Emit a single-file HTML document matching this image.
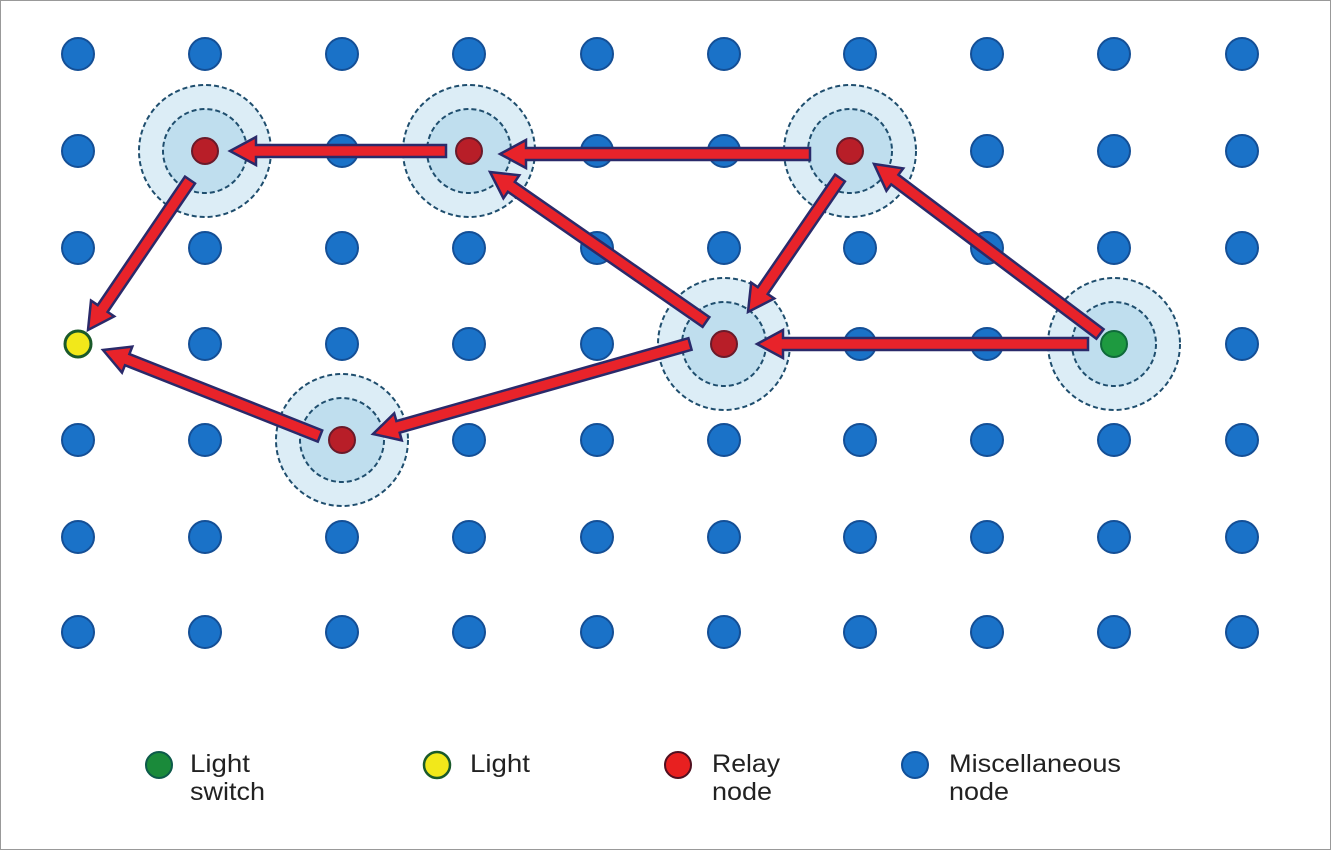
<!DOCTYPE html>
<html><head><meta charset="utf-8"><style>
html,body{margin:0;padding:0;background:#fff;}
svg{display:block;}
text{font-family:"Liberation Sans",Arial,sans-serif;font-size:25px;fill:#222;}
</style></head><body>
<svg id="s" width="1331" height="850" viewBox="0 0 1331 850" xmlns="http://www.w3.org/2000/svg">
<rect x="0.5" y="0.5" width="1330" height="849" fill="#fff" stroke="#999"/>
<g id="g"></g>
<g id="legend">
<circle cx="159" cy="765" r="13" fill="#1a8a3a" stroke="#0d5a4a" stroke-width="2"/>
<text x="190" y="772" textLength="60" lengthAdjust="spacingAndGlyphs">Light</text><text x="190" y="800" textLength="75" lengthAdjust="spacingAndGlyphs">switch</text>
<circle cx="437" cy="765" r="13" fill="#f2e81a" stroke="#1a5a2a" stroke-width="2.5"/>
<text x="470" y="772" textLength="60" lengthAdjust="spacingAndGlyphs">Light</text>
<circle cx="678" cy="765" r="13" fill="#e82020" stroke="#501020" stroke-width="2"/>
<text x="712" y="772" textLength="68" lengthAdjust="spacingAndGlyphs">Relay</text><text x="712" y="800" textLength="60" lengthAdjust="spacingAndGlyphs">node</text>
<circle cx="915" cy="765" r="13" fill="#1a72c8" stroke="#104f98" stroke-width="2"/>
<text x="949" y="772" textLength="172" lengthAdjust="spacingAndGlyphs">Miscellaneous</text><text x="949" y="800" textLength="60" lengthAdjust="spacingAndGlyphs">node</text>
</g>
</svg>
<script>
var NS="http://www.w3.org/2000/svg",g=document.getElementById('g');
function el(t,a){var e=document.createElementNS(NS,t);for(var k in a)e.setAttribute(k,a[k]);g.appendChild(e);return e;}
var xs=[78,205,342,469,597,724,860,987,1114,1242],ys=[54,151,248,344,440,537,632];
var relays=[[205,151],[469,151],[850,151],[724,344],[342,440]];
var rings=relays.concat([[1114,344]]);
rings.forEach(function(p){
 el('circle',{cx:p[0],cy:p[1],r:66,fill:'#dcedf6',stroke:'#1f4e6e','stroke-width':2,'stroke-dasharray':'5 3'});
 el('circle',{cx:p[0],cy:p[1],r:42,fill:'#bfdeee',stroke:'#1f4e6e','stroke-width':2,'stroke-dasharray':'5 3'});
});
function near(x,y){for(var i=0;i<rings.length;i++){if(Math.abs(rings[i][0]-x)<30&&Math.abs(rings[i][1]-y)<30)return true;}return x==78&&y==344;}
ys.forEach(function(y){xs.forEach(function(x){
 if(near(x,y))return;
 el('circle',{cx:x,cy:y,r:16,fill:'#1a72c8',stroke:'#144f96','stroke-width':2});
});});
relays.forEach(function(p){el('circle',{cx:p[0],cy:p[1],r:13,fill:'#b81e28',stroke:'#6a1a2a','stroke-width':2});});
el('circle',{cx:1114,cy:344,r:13,fill:'#1e9a40',stroke:'#0f6a3a','stroke-width':2});
el('circle',{cx:78,cy:344,r:13,fill:'#f2e81a',stroke:'#1a5a2a','stroke-width':3});
function arrow(x1,y1,x2,y2){
 var dx=x2-x1,dy=y2-y1,L=Math.sqrt(dx*dx+dy*dy),ux=dx/L,uy=dy/L,nx=-uy,ny=ux;
 var w=6,hw=14,hl=26,bx=x2-ux*hl,by=y2-uy*hl;
 var pts=[[x1+nx*w,y1+ny*w],[bx+nx*w,by+ny*w],[bx+nx*hw,by+ny*hw],[x2,y2],[bx-nx*hw,by-ny*hw],[bx-nx*w,by-ny*w],[x1-nx*w,y1-ny*w]];
 el('polygon',{points:pts.map(function(p){return p[0].toFixed(1)+','+p[1].toFixed(1)}).join(' '),fill:'#e8232a',stroke:'#2a2a6a','stroke-width':2.5,'stroke-linejoin':'miter'});
}
arrow(446,151,230,151);
arrow(810,154,500,154);
arrow(706,322,490,172);
arrow(840,178,748,312);
arrow(1100,334,874,164);
arrow(1088,344,757,344);
arrow(690,344,373,434);
arrow(320,436,103,350);
arrow(190,180,88,330);
</script>
</body></html>
